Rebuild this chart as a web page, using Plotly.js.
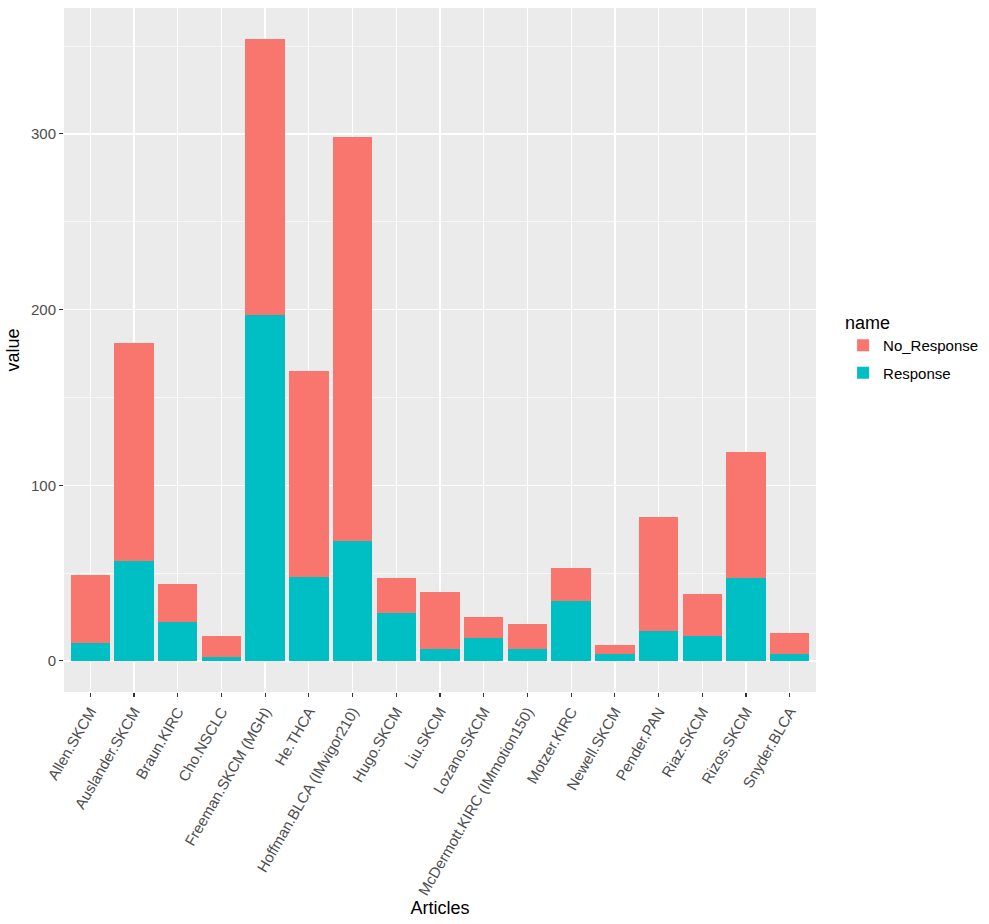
<!DOCTYPE html>
<html>
<head>
<meta charset="utf-8">
<script src="https://cdn.plot.ly/plotly-3.0.1.min.js"></script>
<style>html,body{margin:0;padding:0;background:#fff;}#chart{width:989px;height:924px;}</style>
</head>
<body>
<div id="chart"></div>
<script>
var articles = ["Allen.SKCM","Auslander.SKCM","Braun.KIRC","Cho.NSCLC","Freeman.SKCM (MGH)","He.THCA","Hoffman.BLCA (IMvigor210)","Hugo.SKCM","Liu.SKCM","Lozano.SKCM","McDermott.KIRC (IMmotion150)","Motzer.KIRC","Newell.SKCM","Pender.PAN","Riaz.SKCM","Rizos.SKCM","Snyder.BLCA"];
var response    = [10, 57, 22, 2, 197, 48, 68, 27, 7, 13, 7, 34, 4, 17, 14, 47, 4];
var noResponse  = [39, 124, 22, 12, 157, 117, 230, 20, 32, 12, 14, 19, 5, 65, 24, 72, 12];

var traces = [
  {type:'bar', name:'Response', legendgroup:'r', legendrank:2, x:articles, y:response, marker:{color:'#00BFC4'}},
  {type:'bar', name:'No_Response', legendgroup:'n', legendrank:1, x:articles, y:noResponse, marker:{color:'#F8766D'}}
];

var fam = '"Liberation Sans", Arial, sans-serif';
var layout = {
  width:989, height:924,
  margin:{l:64, r:173, t:8, b:232, autoexpand:false},
  paper_bgcolor:'#FFFFFF', plot_bgcolor:'#EBEBEB',
  barmode:'stack', bargap:0.1,
  font:{family:fam, size:15, color:'#4D4D4D'},
  showlegend:true,
  legend:{
    x:1.036, xanchor:'left', y:0.565, yanchor:'top',
    traceorder:'grouped', tracegroupgap:5,
    title:{text:'name', font:{size:18, color:'#000'}},
    font:{size:15, color:'#000'},
    bgcolor:'rgba(0,0,0,0)'
  },
  xaxis:{
    type:'category',
    range:[-0.6, 16.6],
    tickangle:-60,
    showgrid:true, gridcolor:'#FFFFFF', gridwidth:1.3,
    ticks:'outside', ticklen:4, tickcolor:'#333333', tickwidth:1.1,
    tickfont:{size:15, color:'#4D4D4D'},
    showline:false, zeroline:false,
    title:{text:'Articles', font:{size:18, color:'#000'}, standoff:4}
  },
  yaxis:{
    range:[-17.7, 371.7],
    tickvals:[0,100,200,300],
    showgrid:true, gridcolor:'#FFFFFF', gridwidth:1.3,
    minor:{tickvals:[50,150,250,350], showgrid:true, gridcolor:'#FFFFFF', gridwidth:0.6, ticks:''},
    ticks:'outside', ticklen:4, tickcolor:'#333333', tickwidth:1.1,
    tickfont:{size:15, color:'#4D4D4D'},
    showline:false, zeroline:false,
    title:{text:'value', font:{size:18, color:'#000'}, standoff:6}
  }
};
Plotly.newPlot('chart', traces, layout, {displayModeBar:false, staticPlot:true});
</script>
</body>
</html>
